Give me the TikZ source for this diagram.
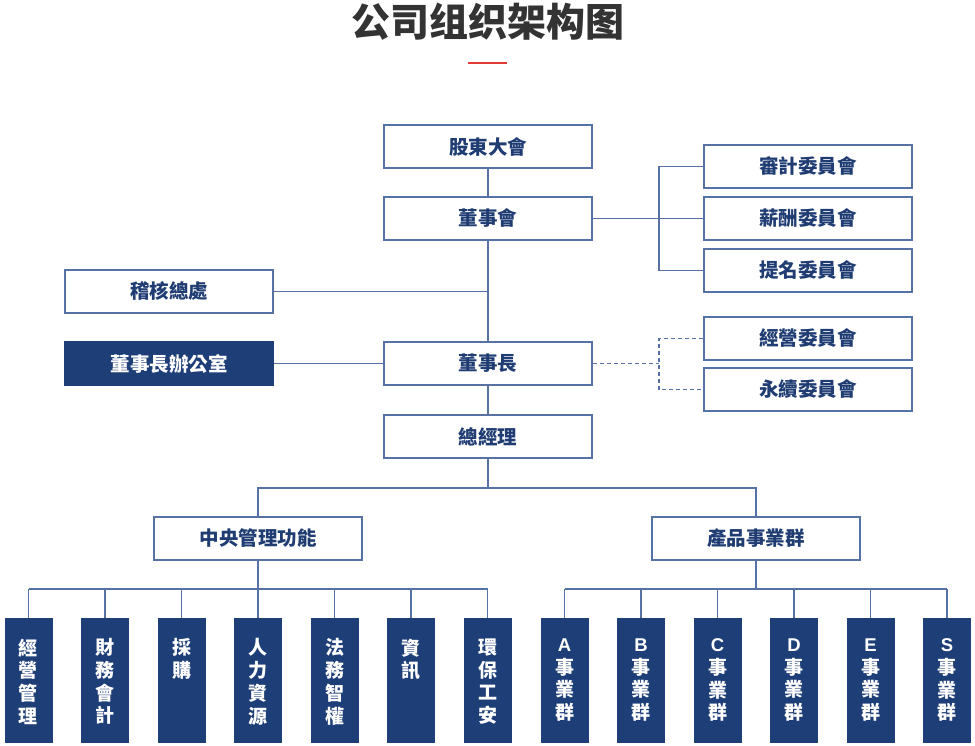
\documentclass[tikz,border=0pt]{standalone}
\usepackage{fontspec}
\newfontfamily\cjk{Noto Sans CJK TC}
\newfontfamily\cjksc{Noto Sans CJK SC}
\newfontfamily\lat{Liberation Sans}
\definecolor{navy}{HTML}{1E3E78}
\definecolor{navytext}{HTML}{1F3C73}
\definecolor{linec}{HTML}{5672A5}
\definecolor{titlec}{HTML}{333333}
\definecolor{redc}{HTML}{E53935}
\tikzset{
  box/.style={draw=linec, line width=1.6pt, fill=white, minimum width=208pt, minimum height=43pt,
    inner sep=0pt, text=navytext, font=\cjk\bfseries\fontsize{19.5}{21}\selectfont},
  darkbox/.style={box, fill=navy, draw=navy, text=white},
  colbox/.style={draw=navy, line width=1pt, fill=navy, minimum width=47pt, minimum height=124pt, inner sep=0pt},
  coltext/.style={anchor=north, inner sep=0pt, text=white, align=center,
    font=\cjk\bfseries\fontsize{19}{22.7}\selectfont},
  conn/.style={draw=linec, line width=1.5pt},
  dconn/.style={conn, dash pattern=on 4pt off 3pt}
}
\newcommand{\ltr}[1]{{\lat\bfseries\fontsize{18.5}{22.7}\selectfont #1}}
\begin{document}
\begin{tikzpicture}[x=1pt,y=-1pt]
\useasboundingbox[fill=white] (0,0) rectangle (975,746);
% title
\node[text=titlec, font=\cjksc\bfseries\fontsize{39}{41}\selectfont, inner sep=0pt] (title) at (488,22) {公司组织架构图};
\draw[redc, line width=2.5pt] (468,63) coordinate (r1) -- (507,63) coordinate (r2);

% main column
\node[box] (gsm) at (488,146.5) {股東大會};
\node[box] (board) at (488,218.5) {董事會};
\node[box] (chair) at (488,363.5) {董事長};
\node[box] (gm) at (488,436.5) {總經理};
% committees
\node[box] (audc) at (808,166.5) {審計委員會};
\node[box] (payc) at (808,218.5) {薪酬委員會};
\node[box] (nomc) at (808,270.5) {提名委員會};
\node[box] (mgtc) at (808,338.5) {經營委員會};
\node[box] (susc) at (808,389.5) {永續委員會};
% left
\node[box] (audit) at (169,291.5) {稽核總處};
\node[darkbox] (office) at (169,363.5) {董事長辦公室};
% second level
\node[box] (central) at (258,538.5) {中央管理功能};
\node[box] (product) at (756,538.5) {產品事業群};

% connectors main
\draw[conn] (gsm.south) -- (board.north);
\draw[conn] (board.south) -- (chair.north);
\draw[conn] (chair.south) -- (gm.north);
\draw[conn] (audit.east) -- (audit.east -| board.south);
\draw[conn] (office.east) -- (chair.west);
% committees bracket
\draw[conn] (board.east) -- (payc.west);
\draw[conn] (audc.west) -- ++(-44,0) coordinate (brt) -- (brt |- nomc.west) -- (nomc.west);
% dashed bracket
\draw[dconn] (chair.east) -- (chair.east -| brt) coordinate (dmid);
\draw[dconn] (mgtc.west) -- ++(-44,0) coordinate (dbt) -- (dbt |- susc.west) -- (susc.west);
% gm to second level
\coordinate (gmbus) at (488,488);
\draw[conn] (gm.south) -- (gmbus);
\draw[conn] (central.north) -- (central.north |- gmbus) -- (product.north |- gmbus) -- (product.north);

% bottom columns
\foreach \nm/\x/\t in {
  c1/28.5/經\\營\\管\\理,
  c2/105/財\\務\\會\\計,
  c3/181.5/採\\購,
  c4/258/人\\力\\資\\源,
  c5/334.5/法\\務\\智\\權,
  c6/411/資\\訊,
  c7/487.5/環\\保\\工\\安,
  p1/564.5/\ltr{A}\\事\\業\\群,
  p2/641/\ltr{B}\\事\\業\\群,
  p3/717.5/\ltr{C}\\事\\業\\群,
  p4/794/\ltr{D}\\事\\業\\群,
  p5/870.5/\ltr{E}\\事\\業\\群,
  p6/947/\ltr{S}\\事\\業\\群}{
  \node[colbox] (\nm) at (\x,680) {};
  \node[coltext] (\nm t) at ([yshift=-21pt]\nm.north) {\t};
}
\coordinate (cbus) at (258,589);
\coordinate (pbus) at (756,589);
\draw[conn] (central.south) -- (cbus);
\draw[conn] (product.south) -- (pbus);
\draw[conn] (c1.north |- cbus) -- (c7.north |- cbus);
\draw[conn] (p1.north |- pbus) -- (p6.north |- pbus);
\foreach \nm in {c1,c2,c3,c4,c5,c6,c7}{
  \draw[conn] (\nm.north) -- (\nm.north |- cbus);
}
\foreach \nm in {p1,p2,p3,p4,p5,p6}{
  \draw[conn] (\nm.north) -- (\nm.north |- pbus);
}
\end{tikzpicture}
\end{document}
